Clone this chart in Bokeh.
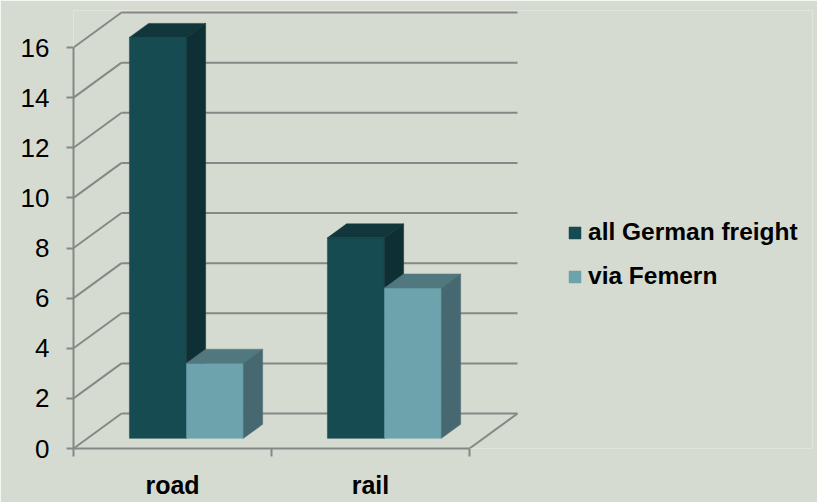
from bokeh.plotting import figure
from bokeh.models import Range1d, FixedTicker, Legend, LegendItem
from bokeh.embed import file_html
from bokeh.resources import INLINE

# ---- data ----
categories = ["road", "rail"]
series_names = ["all German freight", "via Femern"]
all_german = [16, 8]
via_femern = [3, 6]
y_ticks = [0, 2, 4, 6, 8, 10, 12, 14, 16]

# ---- style ----
BG = "#D5DBD0"
GRID = "#878787"
front_colors = ["#174B52", "#6CA3AD"]
top_colors = ["#11373C", "#52787F"]
side_colors = ["#0E2F33", "#466870"]
FONT = "Liberation Sans"

# 3D projection parameters (data units)
XU = 198.0          # px per category unit
YU = 25.06          # px per value unit
DXW = 48 / XU       # wall depth, x
DYW = 35 / YU       # wall depth, y
F0, FD = 0.29, 0.40 # bar front depth fraction, bar depth fraction
XO, YO = F0 * DXW, F0 * DYW
DDX, DDY = FD * DXW, FD * DYW
BW = 57 / XU

n = len(categories)

p = figure(width=817, height=502,
           x_range=Range1d(0, 739 / XU), y_range=Range1d(0, 438 / YU),
           output_backend="svg", toolbar_location=None,
           min_border_left=73, min_border_top=10, min_border_bottom=54,
           min_border_right=5,
           background_fill_color=BG, border_fill_color=BG,
           outline_line_color=None)
p.grid.visible = False

# y axis (front-left edge)
p.yaxis.ticker = FixedTicker(ticks=y_ticks)
p.yaxis.bounds = (0, max(y_ticks))
p.yaxis.axis_line_color = GRID
p.yaxis.axis_line_width = 2
p.yaxis.major_tick_line_color = GRID
p.yaxis.major_tick_line_width = 2
p.yaxis.major_tick_out = 7
p.yaxis.major_tick_in = 0
p.yaxis.minor_tick_line_color = None
p.yaxis.major_label_text_font = FONT
p.yaxis.major_label_text_font_size = "26px"
p.yaxis.major_label_text_color = "black"
p.yaxis.major_label_standoff = 17

# x axis (front floor edge): category labels as major ticks, boundaries as minor ticks
p.xaxis.ticker = FixedTicker(ticks=[c + 0.5 for c in range(n)],
                             minor_ticks=list(range(n + 1)))
p.xaxis.major_label_overrides = {c + 0.5: name for c, name in enumerate(categories)}
p.xaxis.bounds = (0, n)
p.xaxis.axis_line_color = GRID
p.xaxis.axis_line_width = 2
p.xaxis.major_tick_line_color = None
p.xaxis.major_tick_out = 0
p.xaxis.major_tick_in = 0
p.xaxis.minor_tick_line_color = GRID
p.xaxis.minor_tick_line_width = 2
p.xaxis.minor_tick_out = 8
p.xaxis.minor_tick_in = 0
p.xaxis.major_label_text_font = FONT
p.xaxis.major_label_text_font_size = "25px"
p.xaxis.major_label_text_font_style = "bold"
p.xaxis.major_label_text_color = "black"
p.xaxis.major_label_text_line_height = 1.0
p.xaxis.major_label_standoff = 14

# back wall gridlines
p.segment(x0=[DXW] * len(y_ticks), y0=[v + DYW for v in y_ticks],
          x1=[n + DXW] * len(y_ticks), y1=[v + DYW for v in y_ticks],
          line_color=GRID, line_width=2)
# side wall diagonals
p.segment(x0=[0] * len(y_ticks), y0=y_ticks,
          x1=[DXW] * len(y_ticks), y1=[v + DYW for v in y_ticks],
          line_color=GRID, line_width=2)
# floor right edge
p.segment(x0=[n], y0=[0], x1=[n + DXW], y1=[DYW], line_color=GRID, line_width=2)

# bars
legend_items = []
for s, vals in enumerate([all_german, via_femern]):
    left = [c + 0.5 - BW + s * BW + XO for c in range(n)]
    right = [l + BW for l in left]
    bottom = [YO] * n
    top = [v + YO for v in vals]
    rf = p.quad(left=left, right=right, bottom=bottom, top=top,
                fill_color=front_colors[s], line_color=front_colors[s], line_width=0.5)
    top_xs = [[l, r, r + DDX, l + DDX] for l, r in zip(left, right)]
    top_ys = [[t, t, t + DDY, t + DDY] for t in top]
    p.patches(xs=top_xs, ys=top_ys, fill_color=top_colors[s],
              line_color=top_colors[s], line_width=0.5)
    side_xs = [[r, r, r + DDX, r + DDX] for r in right]
    side_ys = [[YO, t, t + DDY, YO + DDY] for t in top]
    p.patches(xs=side_xs, ys=side_ys, fill_color=side_colors[s],
              line_color=side_colors[s], line_width=0.5)
    legend_items.append(LegendItem(label=series_names[s], renderers=[rf]))

legend = Legend(items=legend_items, location=(494, 158),
                glyph_width=15, glyph_height=15, label_standoff=6,
                label_text_font=FONT, label_text_font_size="24.5px",
                label_text_font_style="bold", label_text_color="black",
                spacing=16, padding=0, margin=0,
                background_fill_alpha=0, border_line_color=None)
p.add_layout(legend)

open("out.html", "w").write(file_html(p, INLINE))
